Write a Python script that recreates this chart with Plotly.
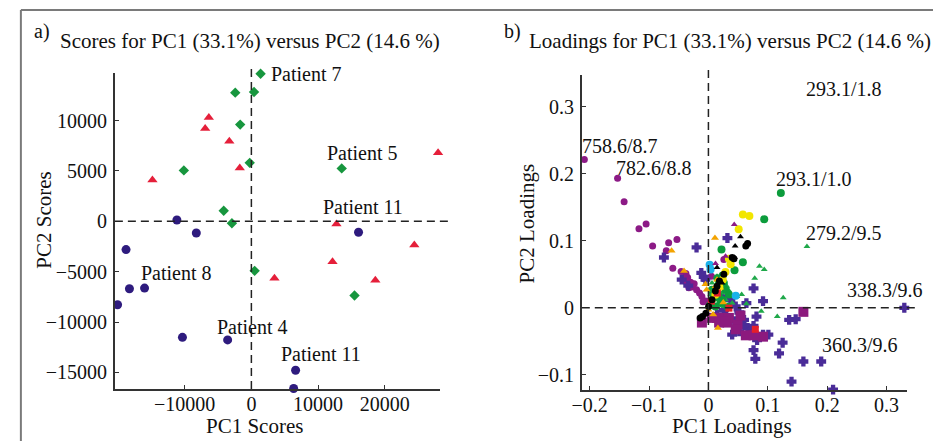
import plotly.graph_objects as go

W, H = 933, 441
FONT = "Liberation Serif"

# ---------------- Panel a: scores ----------------
navy_x = [-11170, -8260, 16070, -18800, -18290, -16020, -20070, -10340, -3560, 6630, 6340]
navy_y = [130, -1160, -1090, -2810, -6700, -6630, -8290, -11520, -11780, -14790, -16600]
red_x = [-6380, -6930, -3310, -1740, -14840, 28000, 12760, 24440, 12170, 3460, 18590]
red_y = [10300, 9200, 7950, 5300, 4090, 6800, -270, -2350, -4030, -5650, -5850]
green_x = [1380, -2420, 400, -1680, -250, -10130, 13550, -4150, -2920, 490, 15470]
green_y = [14650, 12770, 12830, 9600, 5800, 5050, 5250, 1050, -200, -4920, -7370]

score_labels = ["Patient 7", "Patient 5", "Patient 11", "Patient 8", "Patient 4", "Patient 11"]
score_lab_x = [2670, 16620, 16770, -11280, 150, 10390]
score_lab_y = [14600, 6760, 1420, -5090, -10470, -13140]
score_lab_anchor = ["left", "center", "center", "center", "center", "center"]

a_xticks = [-10000, 0, 10000, 20000]
a_yticks = [-15000, -10000, -5000, 0, 5000, 10000]
a_xrange = [-20475, 28340]
a_yrange = [-16650, 14720]

# ---------------- Panel b: loadings ----------------
purple_x = [-0.209, -0.153, -0.142, -0.117, -0.105, -0.094, -0.071, -0.067, -0.053, -0.060,
            -0.046, -0.038, -0.040, -0.030, -0.028, -0.020, -0.011, -0.005, 0.003, -0.035,
            -0.024, -0.015, 0.005, 0.026, -0.009, -0.038, -0.033]
purple_y = [0.221, 0.193, 0.158, 0.118, 0.125, 0.092, 0.085, 0.097, 0.102, 0.059,
            0.054, 0.051, 0.040, 0.038, 0.031, 0.027, 0.017, 0.010, 0.058, 0.045,
            0.036, 0.022, 0.047, 0.072, 0.009, 0.048, 0.030]
navyb_x = [-0.075, -0.020, 0.032, -0.045, -0.034, -0.008, -0.005, 0.023, 0.037, 0.046,
           0.052, 0.057, 0.040, 0.052, 0.066, 0.069, 0.076, 0.026, 0.0145, 0.076,
           0.092, 0.064, 0.081, 0.330, 0.136, 0.147, 0.125, 0.119, 0.160, 0.190,
           0.140, 0.210, 0.076, 0.079, 0.082, 0.092, 0.101, -0.012, 0.008, 0.030,
           0.044, 0.060]
navyb_y = [0.075, 0.090, 0.104, 0.042, 0.033, 0.046, 0.042, 0.017, 0.012, 0.002,
           -0.007, -0.025, -0.040, -0.035, -0.030, -0.037, -0.027, -0.003, -0.010, 0.029,
           0.010, 0.007, -0.013, 0.000, -0.018, -0.017, -0.052, -0.068, -0.080, -0.080,
           -0.110, -0.122, -0.063, -0.076, -0.048, -0.040, -0.040, 0.052, 0.020, -0.012,
           -0.020, -0.018]
msq_x = [0.006, 0.0145, 0.023, 0.032, 0.0345, 0.049, 0.054, 0.046, 0.063, 0.076,
         0.092, 0.160, 0.018, 0.028, -0.011]
msq_y = [-0.015, -0.015, -0.015, -0.022, -0.015, -0.025, -0.0115, -0.032, -0.041, -0.041,
         -0.043, -0.006, -0.022, -0.020, -0.022]
gtri_x = [0.166, 0.086, 0.094, 0.078, 0.056, 0.048, 0.126, 0.116, 0.089, 0.0145,
          0.006, 0.0117, 0.0231, 0.0203, 0.0288, 0.0374, 0.043, 0.040, 0.026, 0.004,
          0.018, 0.031, 0.010, 0.022, 0.034, 0.064]
gtri_y = [0.0915, 0.062, 0.057, 0.044, 0.020, 0.017, 0.015, -0.013, -0.005, 0.047,
          0.037, 0.012, 0.022, 0.042, 0.012, 0.017, 0.017, 0.007, 0.002, 0.020,
          0.030, 0.032, 0.027, 0.005, 0.026, 0.006]
gcir_x = [0.122, 0.094, 0.022, 0.058, 0.044, 0.006, 0.0117, 0.0174, 0.0231, 0.0288,
          0.026, 0.0174, 0.0088, 0.0345, 0.0117, 0.0203, 0.032, 0.015, 0.024, 0.003]
gcir_y = [0.171, 0.132, 0.087, 0.068, 0.056, 0.027, 0.022, 0.017, 0.012, 0.027,
          0.037, 0.035, 0.015, 0.020, 0.002, 0.007, 0.002, 0.044, 0.048, 0.004]
orange_x = [0.011, -0.062, -0.041, 0.016, -0.003, 0.006, 0.0, 0.012, 0.020, 0.0145,
            -0.005, 0.008, 0.025]
orange_y = [0.104, 0.085, 0.055, -0.030, 0.027, 0.012, -0.003, 0.032, 0.030, 0.042,
            0.035, -0.010, 0.008]
yellow_x = [0.170, 0.058, 0.069, 0.051, 0.0345, 0.0374, 0.0288, 0.0242, 0.0185, 0.0117]
yellow_y = [0.349, 0.139, 0.137, 0.117, 0.073, 0.065, 0.0535, 0.042, 0.031, 0.0195]
cyan_x = [0.002, 0.046, 0.0037]
cyan_y = [0.064, 0.018, 0.057]
red_b_x = [0.005, 0.079, 0.0345, 0.015]
red_b_y = [0.010, -0.032, -0.0005, 0.022]
blackc_x = [0.063, 0.066, 0.040, 0.043, 0.026, 0.0185, 0.0145, 0.0117, 0.006, 0.0003,
            -0.0043, -0.010, -0.014]
blackc_y = [0.092, 0.096, 0.075, 0.073, 0.050, 0.040, 0.032, 0.025, 0.012, 0.002,
            -0.008, -0.013, -0.015]
blackt_x = [0.054, 0.045, 0.044, 0.0145, 0.023]
blackt_y = [0.106, 0.092, 0.075, 0.060, 0.037]
mtri_x = [0.0435, 0.0288, 0.012]
mtri_y = [0.124, 0.077, 0.066]

load_labels = ["293.1/1.8", "758.6/8.7", "782.6/8.8", "293.1/1.0", "279.2/9.5", "338.3/9.6", "360.3/9.6"]
load_lab_x = [0.228, -0.149, -0.092, 0.178, 0.228, 0.298, 0.255]
load_lab_y = [0.326, 0.241, 0.209, 0.1915, 0.111, 0.027, -0.056]

b_xticks = [-0.2, -0.1, 0, 0.1, 0.2, 0.3]
b_yticks = [-0.1, 0, 0.1, 0.2, 0.3]
b_xrange = [-0.2133, 0.335]
b_yrange = [-0.1225, 0.347]

# ---------------- layout geometry ----------------
a_xdom = [106 / W, 435 / W]
a_ydom = [1 - 389 / H, 1 - 73 / H]
b_xdom = [578 / W, 907 / W]
b_ydom = [1 - 390 / H, 1 - 75 / H]

fig = go.Figure()

def sc(x, y, color, symbol, size, xa, ya, lw=0):
    fig.add_trace(go.Scatter(x=x, y=y, mode="markers", xaxis=xa, yaxis=ya,
                             marker=dict(color=color, symbol=symbol, size=size,
                                         line=dict(width=lw, color=color)),
                             cliponaxis=False, showlegend=False, hoverinfo="skip"))

sc(navy_x, navy_y, "#2e1b7e", "circle", 9, "x", "y")
sc(red_x, red_y, "#e51f3a", "triangle-up", 9, "x", "y")
sc(green_x, green_y, "#17963e", "diamond", 8, "x", "y")

sc(purple_x, purple_y, "#8c1a86", "circle", 7, "x2", "y2")
sc(navyb_x, navyb_y, "#4a2c98", "cross", 7, "x2", "y2", lw=1.5)
sc(msq_x, msq_y, "#8c1a7e", "square", 10, "x2", "y2")
sc(gtri_x, gtri_y, "#1fa84a", "triangle-up", 6, "x2", "y2")
sc(gcir_x, gcir_y, "#0c9c3c", "circle", 8, "x2", "y2")
sc(orange_x, orange_y, "#f3a300", "triangle-up", 7, "x2", "y2")
sc(yellow_x, yellow_y, "#f2e600", "circle", 8, "x2", "y2")
sc(cyan_x, cyan_y, "#1ab2ea", "circle", 8, "x2", "y2")
sc(red_b_x, red_b_y, "#e51f2a", "square", 7, "x2", "y2")
sc(blackc_x, blackc_y, "#000000", "circle", 7, "x2", "y2")
sc(blackt_x, blackt_y, "#000000", "triangle-up", 6, "x2", "y2")
sc(mtri_x, mtri_y, "#8c1a86", "triangle-up", 6, "x2", "y2")

tickfont = dict(family=FONT, size=20, color="#111")
axis_common = dict(showline=True, linecolor="#333", linewidth=1.5, ticks="inside", ticklen=4,
                   tickcolor="#333", showgrid=False, zeroline=False, tickfont=tickfont, mirror=False)

fig.update_layout(
    width=W, height=H, margin=dict(l=0, r=0, t=0, b=0),
    paper_bgcolor="white", plot_bgcolor="white",
    xaxis=dict(domain=a_xdom, range=a_xrange, tickvals=a_xticks, tickformat="d", anchor="y",
               ticklabelstandoff=-4, **axis_common),
    yaxis=dict(domain=a_ydom, range=a_yrange, tickvals=a_yticks, tickformat="d", anchor="x",
               ticklabelstandoff=2, **axis_common),
    xaxis2=dict(domain=b_xdom, range=b_xrange, tickvals=b_xticks, anchor="y2",
                ticklabelstandoff=-4, **axis_common),
    yaxis2=dict(domain=b_ydom, range=b_yrange, tickvals=b_yticks, anchor="x2",
                ticklabelstandoff=2, **axis_common),
)

def to_paper(v, dom, rng):
    return dom[0] + (v - rng[0]) / (rng[1] - rng[0]) * (dom[1] - dom[0])

shapes = []
dash = dict(color="#222", width=1.5, dash="8px,5px")
xa0 = to_paper(0, a_xdom, a_xrange)
ya0 = to_paper(0, a_ydom, a_yrange)
shapes.append(dict(type="line", xref="paper", yref="paper", x0=xa0, x1=xa0, y0=a_ydom[0], y1=a_ydom[1] + 8 / H, line=dash))
shapes.append(dict(type="line", xref="paper", yref="paper", x0=a_xdom[0], x1=a_xdom[1] + 10 / W, y0=ya0, y1=ya0, line=dash))
xb0 = to_paper(0, b_xdom, b_xrange)
yb0 = to_paper(0, b_ydom, b_yrange)
shapes.append(dict(type="line", xref="paper", yref="paper", x0=xb0, x1=xb0, y0=b_ydom[0], y1=b_ydom[1] + 10 / H, line=dash))
shapes.append(dict(type="line", xref="paper", yref="paper", x0=b_xdom[0], x1=b_xdom[1] + 10 / W, y0=yb0, y1=yb0, line=dash))
frame = dict(color="#7a7a7a", width=2)
shapes.append(dict(type="line", xref="paper", yref="paper", x0=11 / W, x1=1, y0=1 - 10 / H, y1=1 - 10 / H, line=frame))
shapes.append(dict(type="line", xref="paper", yref="paper", x0=11 / W, x1=11 / W, y0=0, y1=1 - 10 / H, line=frame))
fig.update_layout(shapes=shapes)

ann = []
lblfont = dict(family=FONT, size=20, color="#111")
for t, x, y, a in zip(score_labels, score_lab_x, score_lab_y, score_lab_anchor):
    ann.append(dict(text=t, x=x, y=y, xref="x", yref="y", xanchor=a, yanchor="middle", showarrow=False, font=lblfont))
for t, x, y in zip(load_labels, load_lab_x, load_lab_y):
    ann.append(dict(text=t, x=x, y=y, xref="x2", yref="y2", xanchor="center", yanchor="middle", showarrow=False, font=lblfont))

def pa(text, px, py, xanchor="center", angle=0, size=20):
    ann.append(dict(text=text, x=px / W, y=1 - py / H, xref="paper", yref="paper", xanchor=xanchor,
                    yanchor="middle", showarrow=False, textangle=angle,
                    font=dict(family=FONT, size=size, color="#111")))

pa("a)", 22, 31, "left")
pa("Scores for PC1 (33.1%) versus PC2 (14.6 %)", 49, 41, "left", size=21)
pa("b)", 497, 31, "left")
pa("Loadings for PC1 (33.1%) versus PC2 (14.6 %)", 523, 41, "left", size=21)
pa("PC1 Scores", 247, 426, size=21)
pa("PC2 Scores", 34, 220, angle=-90, size=21)
pa("PC1 Loadings", 730, 426, size=21)
pa("PC2 Loadings", 523, 223, angle=-90, size=21)
fig.update_layout(annotations=ann)

fig.write_html("out.html")
